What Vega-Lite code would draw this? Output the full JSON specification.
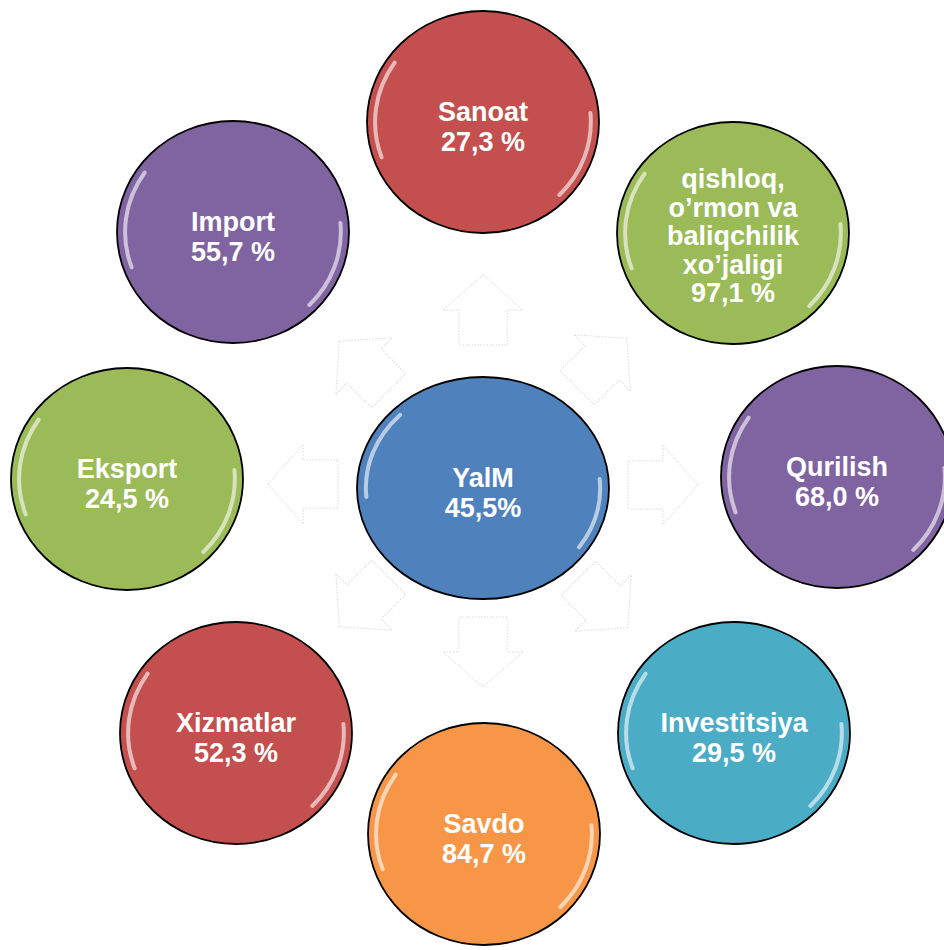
{
  "$schema": "https://vega.github.io/schema/vega-lite/v6.json",
  "width": 944,
  "height": 950,
  "padding": 0,
  "autosize": {"type": "none"},
  "background": "white",
  "config": {"view": {"stroke": null}},
  "datasets": {
    "nodes": [
      {"name": "Sanoat", "label": "Sanoat\n27,3 %", "x": 483, "y": 122, "kind": "outer"},
      {"name": "Qishloq", "label": "qishloq,\no’rmon va\nbaliqchilik\nxo’jaligi\n97,1 %", "x": 733, "y": 233, "kind": "outer"},
      {"name": "Qurilish", "label": "Qurilish\n68,0 %", "x": 837, "y": 477, "kind": "outer"},
      {"name": "Investitsiya", "label": "Investitsiya\n29,5 %", "x": 734, "y": 733, "kind": "outer"},
      {"name": "Savdo", "label": "Savdo\n84,7 %", "x": 484, "y": 834, "kind": "outer"},
      {"name": "Xizmatlar", "label": "Xizmatlar\n52,3 %", "x": 236, "y": 733, "kind": "outer"},
      {"name": "Eksport", "label": "Eksport\n24,5 %", "x": 127, "y": 479, "kind": "outer"},
      {"name": "Import", "label": "Import\n55,7 %", "x": 233, "y": 232, "kind": "outer"},
      {"name": "YalM", "label": "YalM\n45,5%", "x": 483, "y": 488, "kind": "center"}
    ],
    "arrows": [
      {"x": 483, "y": 310, "dir": 0},
      {"x": 602, "y": 363, "dir": 45},
      {"x": 663, "y": 485, "dir": 90},
      {"x": 603, "y": 603, "dir": 135},
      {"x": 483, "y": 652, "dir": 180},
      {"x": 364, "y": 602, "dir": 225},
      {"x": 303, "y": 484, "dir": 270},
      {"x": 364, "y": 366, "dir": 315}
    ]
  },
  "layer": [
    {
      "data": {"name": "arrows"},
      "mark": {
        "type": "point",
        "filled": true,
        "opacity": 1,
        "fill": "white",
        "stroke": "#d9d9d9",
        "strokeWidth": 1,
        "strokeDash": [1.5, 1.5],
        "size": 4900,
        "shape": "M0,-1 L1.14,0 L0.69,0 L0.69,1 L-0.69,1 L-0.69,0 L-1.14,0 Z"
      },
      "encoding": {
        "x": {"field": "x", "type": "quantitative", "scale": {"domain": [0, 944], "nice": false, "zero": false}, "axis": null},
        "y": {"field": "y", "type": "quantitative", "scale": {"domain": [0, 950], "nice": false, "zero": false, "reverse": true}, "axis": null},
        "angle": {"field": "dir", "type": "quantitative", "scale": {"domain": [0, 360], "range": [0, 360]}, "legend": null}
      }
    },
    {
      "data": {"name": "nodes"},
      "mark": {"type": "point", "filled": true, "opacity": 1, "stroke": "black", "strokeWidth": 1.8},
      "encoding": {
        "x": {"field": "x", "type": "quantitative", "axis": null},
        "y": {"field": "y", "type": "quantitative", "axis": null},
        "color": {
          "field": "name", "type": "nominal", "legend": null,
          "scale": {
            "domain": ["Sanoat", "Qishloq", "Qurilish", "Investitsiya", "Savdo", "Xizmatlar", "Eksport", "Import", "YalM"],
            "range": ["#C3504E", "#9BBB59", "#8064A2", "#4BACC6", "#F79646", "#C3504E", "#9BBB59", "#8064A2", "#4F81BD"]
          }
        },
        "size": {"field": "kind", "type": "ordinal", "legend": null, "scale": {"domain": ["outer", "center"], "range": [53824, 63504]}},
        "shape": {
          "field": "kind", "type": "nominal", "legend": null,
          "scale": {
            "domain": ["outer", "center"],
            "range": ["M-1,0 A1,0.957 0 1,1 1,0 A1,0.957 0 1,1 -1,0 Z", "M-1,0 A1,0.881 0 1,1 1,0 A1,0.881 0 1,1 -1,0 Z"]
          }
        }
      }
    },
    {
      "data": {"name": "nodes"},
      "mark": {"type": "point", "filled": false, "opacity": 0.6, "color": "white", "strokeWidth": 4, "strokeCap": "round"},
      "encoding": {
        "x": {"field": "x", "type": "quantitative", "axis": null},
        "y": {"field": "y", "type": "quantitative", "axis": null},
        "size": {"field": "kind", "type": "ordinal", "legend": null, "scale": {"domain": ["outer", "center"], "range": [53824, 63504]}},
        "shape": {
          "field": "kind", "type": "nominal", "legend": null,
          "scale": {
            "domain": ["outer", "center"],
            "range": [
              "M-0.874,0.304 A0.93,0.89 0 0,1 -0.762,-0.511 M0.926,-0.078 A0.93,0.89 0 0,1 0.658,0.629",
              "M-0.926,0.071 A0.93,0.82 0 0,1 -0.658,-0.580 M0.926,-0.071 A0.93,0.82 0 0,1 0.762,0.470"
            ]
          }
        }
      }
    },
    {
      "data": {"name": "nodes"},
      "transform": [{"filter": "datum.name !== 'Qishloq'"}],
      "mark": {
        "type": "text",
        "color": "white",
        "font": "Liberation Sans",
        "fontWeight": "bold",
        "fontSize": 27,
        "lineHeight": 30,
        "lineBreak": "\n",
        "align": "center",
        "baseline": "middle",
        "dy": -9
      },
      "encoding": {
        "x": {"field": "x", "type": "quantitative", "axis": null},
        "y": {"field": "y", "type": "quantitative", "axis": null},
        "text": {"field": "label", "type": "nominal"}
      }
    },
    {
      "data": {"name": "nodes"},
      "transform": [{"filter": "datum.name === 'Qishloq'"}],
      "mark": {
        "type": "text",
        "color": "white",
        "font": "Liberation Sans",
        "fontWeight": "bold",
        "fontSize": 27,
        "lineHeight": 28.5,
        "lineBreak": "\n",
        "align": "center",
        "baseline": "middle",
        "dy": -53
      },
      "encoding": {
        "x": {"field": "x", "type": "quantitative", "axis": null},
        "y": {"field": "y", "type": "quantitative", "axis": null},
        "text": {"field": "label", "type": "nominal"}
      }
    }
  ],
  "resolve": {"scale": {"shape": "independent"}}
}
